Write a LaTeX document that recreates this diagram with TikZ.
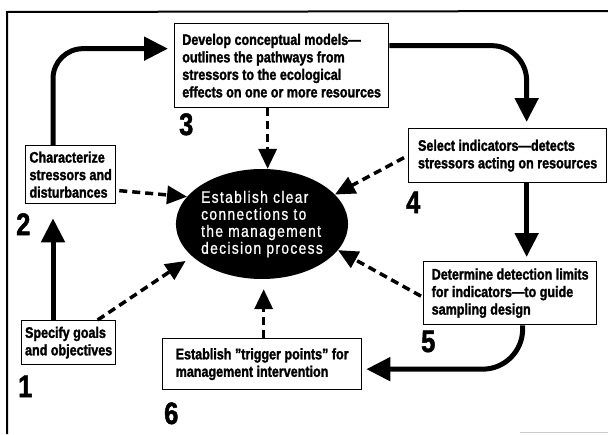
\documentclass[tikz,border=0pt]{standalone}
\usepackage{fontspec}
\newfontfamily\condfont{Liberation Sans}[Ligatures=TeX,FakeStretch=0.82,FakeBold=1.6]
\newfontfamily\ovalfont{Liberation Sans}[Ligatures=TeX,FakeStretch=0.84,LetterSpace=8,FakeBold=0.8]
\usetikzlibrary{shapes,arrows.meta,positioning}

\begin{document}
\begin{tikzpicture}[x=1pt,y=-1pt,
    stage/.style={draw, line width=1.3pt, fill=white, anchor=north west, align=left,
        inner sep=0pt, font=\condfont\bfseries\fontsize{15.3}{17.5}\selectfont},
    num/.style={anchor=base west, inner sep=0pt, font=\condfont\bfseries\fontsize{31}{31}\selectfont},
    flow/.style={line width=5pt, -{Triangle[length=24pt,width=23pt]}},
    link/.style={line width=3.5pt, dash pattern=on 8pt off 5pt, -{Triangle[length=20pt,width=18pt]}}]
    \useasboundingbox (0,0) rectangle (608,434);

    % frame
    \draw[line width=2pt] (7,434) -- (7,12) -- (608,11);
    \draw[gray!40, line width=1.5pt] (520,432.5) -- (608,432.5);

    \node[ellipse, fill=black, minimum width=164pt, minimum height=110pt, inner sep=0pt,
        text=white, align=left, font=\ovalfont\fontsize{16.5}{17}\selectfont]
        (ell) at (262,224) {Establish clear\\connections to\\the management\\decision process};

    \node[stage, minimum width=94pt, minimum height=44pt] (s1) at (21,320)
        {Specify goals\\and objectives};
    \node[stage, minimum width=90pt, minimum height=58pt] (s2) at (25,145)
        {Characterize\\stressors and\\disturbances};
    \node[stage, minimum width=214pt, minimum height=84pt] (s3) at (174,23)
        {Develop conceptual models---\\outlines the pathways from\\stressors to the ecological\\effects on one or more resources};
    \node[stage, minimum width=198pt, minimum height=54pt] (s4) at (408,128)
        {Select indicators---detects\\stressors acting on resources};
    \node[stage, minimum width=173pt, minimum height=63pt] (s5) at (423,261)
        {Determine detection limits\\for indicators---to guide\\sampling design};
    \node[stage, minimum width=199pt, minimum height=51pt] (s6) at (162,338)
        {Establish "trigger points" for\\management intervention};

    \node[num] (n1) at (18,397) {1};
    \node[num] (n2) at (16,235) {2};
    \node[num] (n3) at (179,135) {3};
    \node[num] (n4) at (406,213) {4};
    \node[num] (n5) at (421,352) {5};
    \node[num] (n6) at (164,424) {6};

    % main cycle
    \draw[flow] ([xshift=32pt]s1.north west) -- ([xshift=28pt,yshift=-14pt]s2.south west);
    \draw[flow, rounded corners=30pt] ([xshift=28pt]s2.north west) |- ([xshift=-6pt,yshift=17pt]s3.west);
    \draw[flow, rounded corners=35pt] ([yshift=20pt]s3.east) -| ([xshift=19pt,yshift=6pt]s4.north);
    \draw[flow] ([xshift=19pt]s4.south) -- ([xshift=16.5pt,yshift=4pt]s5.north);
    \draw[flow, rounded corners=40pt] ([xshift=12.5pt]s5.south) |- ([xshift=4pt,yshift=-5pt]s6.east);

    % links to the decision process
    \draw[link] ([xshift=-14pt]s3.south) -- ([xshift=-14pt]s3.south |- ell.north);
    \draw[link] ([xshift=3pt,yshift=-16pt]s2.east) -- (ell.160);
    \draw[link, shorten >=8pt] ([xshift=29pt]s1.north) -- (ell.205);
    \draw[link] ([xshift=-4pt,yshift=-2pt]s4.west) -- (ell.22);
    \draw[link] ([xshift=-2pt,yshift=-3pt]s5.west) -- (ell.341);
    \draw[link, shorten >=10pt] ([xshift=1.5pt]s6.north) -- ([xshift=1.5pt]s6.north |- ell.south);
\end{tikzpicture}
\end{document}
